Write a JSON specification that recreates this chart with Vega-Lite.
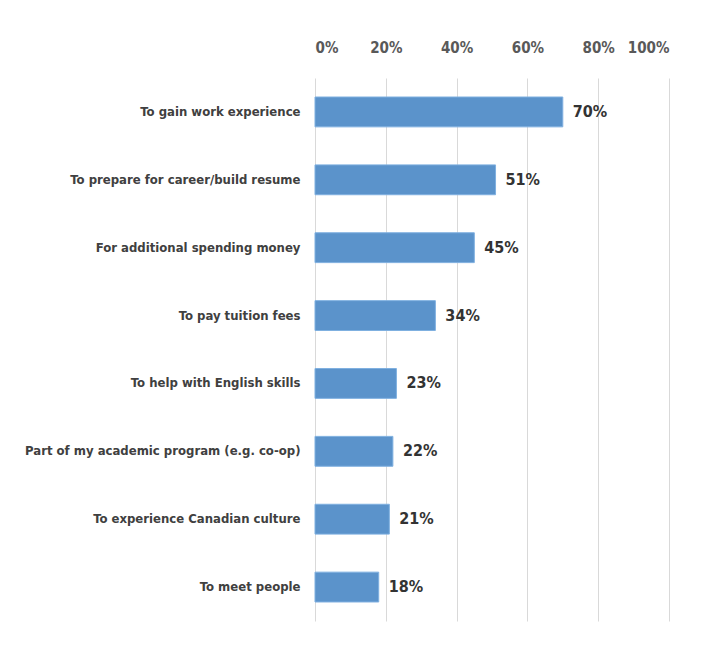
{
  "$schema": "https://vega.github.io/schema/vega-lite/v6.json",
  "autosize": "none",
  "padding": {"left": 315, "top": 78, "right": 32, "bottom": 28},
  "width": 354,
  "height": 543,
  "background": "white",
  "config": {"view": {"stroke": null}},
  "data": {"values": [
    {"reason": "To gain work experience", "pct": 0.70},
    {"reason": "To prepare for career/build resume", "pct": 0.51},
    {"reason": "For additional spending money", "pct": 0.45},
    {"reason": "To pay tuition fees", "pct": 0.34},
    {"reason": "To help with English skills", "pct": 0.23},
    {"reason": "Part of my academic program (e.g. co-op)", "pct": 0.22},
    {"reason": "To experience Canadian culture", "pct": 0.21},
    {"reason": "To meet people", "pct": 0.18}
  ]},
  "encoding": {
    "y": {"field": "reason", "type": "nominal", "sort": null,
      "scale": {"paddingInner": 0.56, "paddingOuter": 0.28},
      "axis": {"title": null, "domain": false, "ticks": false, "labelPadding": 15, "labelLimit": 400,
        "labelFont": "DejaVu Sans Condensed, Liberation Sans", "labelFontWeight": "bold", "labelFontSize": 13, "labelColor": "#404040"}},
    "x": {"field": "pct", "type": "quantitative",
      "scale": {"domain": [0, 1]},
      "axis": {"orient": "top", "title": null, "format": ".0%", "values": [0, 0.2, 0.4, 0.6, 0.8, 1],
        "domain": false, "ticks": false, "labelPadding": 23, "gridColor": "#d9d9d9", "gridWidth": 1,
        "labelFont": "DejaVu Sans Condensed, Liberation Sans", "labelFontWeight": "bold", "labelFontSize": 15, "labelColor": "#595959"}}
  },
  "layer": [
    {"mark": {"type": "bar", "color": "#5b93cb", "stroke": "#7fb0e0", "strokeWidth": 1}},
    {"mark": {"type": "text", "align": "left", "dx": 10, "font": "DejaVu Sans Condensed, Liberation Sans", "fontWeight": "bold", "fontSize": 16, "color": "#333333"},
      "encoding": {"text": {"field": "pct", "type": "quantitative", "format": ".0%"}}}
  ]
}
